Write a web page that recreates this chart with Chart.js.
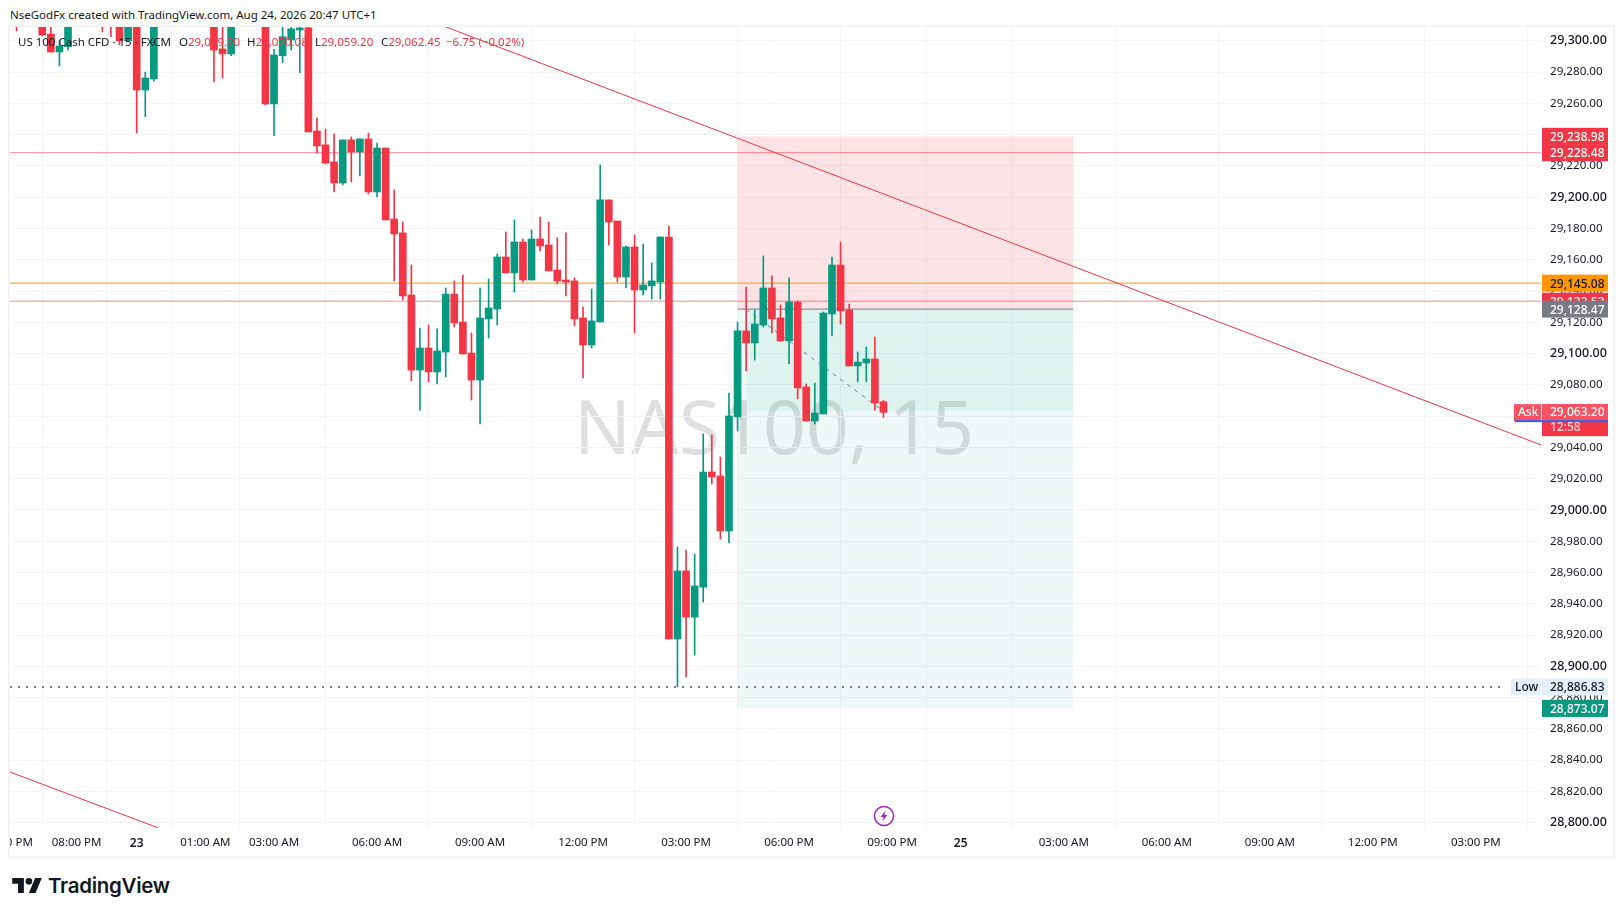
<!DOCTYPE html>
<html>
<head>
<meta charset="utf-8">
<title>NAS100, 15</title>
<script src="https://cdn.jsdelivr.net/npm/chart.js@4/dist/chart.umd.min.js"></script>
<style>
    html, body { margin: 0; padding: 0; background: #fff; }
    body { width: 1623px; height: 916px; position: relative; overflow: hidden; font-family: "Noto Sans", sans-serif; color: #131722; }
    #frame { position: absolute; left: 8px; top: 25px; width: 1603px; height: 829px; border: 2px solid #f2f3f4; }
    #watermark { position: absolute; left: 574px; top: 370px; font-size: 75px; line-height: 110px; color: #dfdfdf; white-space: nowrap; }
    #stockChart { position: absolute; left: 10px; top: 27px; }
    #credit { position: absolute; left: 10px; top: 5px; font-size: 11.5px; line-height: 20px; white-space: nowrap; }
    .legend { position: absolute; top: 33px; font-size: 11.5px; line-height: 18px; white-space: nowrap; }
    .red { color: #f23645; }
    #logoIcon { position: absolute; left: 12px; top: 878px; }
    #logoText { position: absolute; left: 48px; top: 871px; font-family: Inter, sans-serif; font-weight: 600; font-size: 20.5px; line-height: 30px; letter-spacing: -0.3px; }
    #bolt { position: absolute; left: 873px; top: 805px; }
</style>
</head>
<body>
<div id="frame"></div>
<div id="watermark">NAS100, 15</div>
<canvas id="stockChart" width="1603" height="829"></canvas>

<div id="credit">NseGodFx created with TradingView.com, Aug 24, 2026 20:47 UTC+1</div>
<div class="legend" style="left:18px">US 100 Cash CFD · 15 · FXCM</div>
<div class="legend" style="left:179px">O<span class="red">29,069.20</span></div>
<div class="legend" style="left:247px">H<span class="red">29,070.08</span></div>
<div class="legend" style="left:315px">L<span class="red">29,059.20</span></div>
<div class="legend" style="left:381px">C<span class="red">29,062.45</span></div>
<div class="legend red" style="left:446px">−6.75 (−0.02%)</div>

<svg id="bolt" width="22" height="22" viewBox="0 0 22 22">
    <circle cx="11" cy="11" r="9.6" fill="none" stroke="#9c27b0" stroke-width="1.5"/>
    <path d="M12.6 5.5 7.6 12h3l-1.2 4.6 5-6.5h-3z" fill="#9c27b0"/>
</svg>
<svg id="logoIcon" width="30" height="15" viewBox="0 4 35.5 18">
    <path d="M14 22H7V11H0V4h14v18zM28 22h-8l7.5-18h8L28 22z" fill="#131722"/>
    <circle cx="20" cy="8" r="4" fill="#131722"/>
</svg>
<div id="logoText">TradingView</div>

<script>
// Candles, one entry per 15 minute bar. null = bar sits above the visible range
const opens = [
    29322, null, null, 29318, 29304.4, 29292.9, 29296.3, null, null, null,
    29322, 29325, 29318, 29300, 29312, 29268.6, 29275.7, null, null, null,
    null, null, null, 29320, 29294.9, 29291.7, null, null, null, 29330,
    29259.7, 29290.6, 29300.6, 29307.0, 29308.3, 29242.4, 29233.5, 29222.6, 29209.1, 29236.7,
    29229.0, 29237.3, 29203.4, 29231.5, 29186.1, 29177.2, 29137.5, 29089.5, 29103.6, 29088.3,
    29101.0, 29138.1, 29120.2, 29100.4, 29083.1, 29122.2, 29128.5, 29161.8, 29151.6, 29171.4,
    29147.1, 29173.3, 29169.5, 29153.5, 29147.1, 29146.5, 29122.8, 29105.5, 29120.2, 29198.3,
    29184.8, 29149.0, 29168.2, 29140.7, 29143.3, 29145.8, 29174.6, 28917.5, 28961.0, 28931.5,
    28950.7, 29024.3, 29021.7, 28986.5, 29059.5, 29114.5, 29106.8, 29118.3, 29142.0, 29122.8,
    29108.1, 29133.0, 29078.7, 29056.9, 29061.4, 29125.4, 29156.7, 29127.9, 29092.1, 29094.0,
    29096.6, 29069.2
];
const highs = [
    29326, null, null, 29322, 29316, 29300, 29320, null, null, null,
    29328, 29330, 29322, 29330, 29318, 29280.1, 29326, null, null, null,
    null, null, null, 29325, 29315, 29330, null, null, null, 29335,
    29294.6, 29312, 29311, 29312, 29309, 29250.7, 29243.7, 29240.5, 29236.7, 29238.6,
    29237.3, 29241.1, 29234.7, 29231.5, 29204.7, 29184.2, 29156.7, 29116.4, 29118.3, 29115.8,
    29142.0, 29146.5, 29150.3, 29113.2, 29142.0, 29147.7, 29163.7, 29177.8, 29185.5, 29173.3,
    29179.1, 29187.4, 29184.2, 29174.0, 29177.2, 29148.4, 29129.8, 29141.3, 29220.7, 29198.3,
    29184.8, 29168.8, 29175.9, 29170.1, 29158.0, 29174.6, 29181.6, 28976.3, 28974.4, 28971.8,
    29048.6, 29048.0, 29033.9, 29074.8, 29120.2, 29142.6, 29127.9, 29162.5, 29149.7, 29131.1,
    29148.4, 29133.7, 29080.6, 29081.2, 29126.6, 29161.8, 29171.4, 29131.7, 29101.0, 29104.2,
    29110.6, 29070.08
];
const lows = [
    29306.4, null, null, 29303.2, 29292.9, 29284.0, 29294.2, null, null, null,
    29305.7, 29302.7, 29297.4, 29300, 29241.3, 29251.6, 29274.4, null, null, null,
    null, null, null, 29273.7, 29276.3, 29290.6, null, null, null, 29259.0,
    29239.4, 29286.1, 29294.2, 29279.7, 29241.8, 29228.3, 29221.3, 29203.4, 29207.9, 29209.8,
    29213.6, 29202.1, 29200.2, 29185.5, 29146.5, 29134.3, 29082.5, 29063.9, 29081.9, 29080.6,
    29085.1, 29117.0, 29099.8, 29070.3, 29055.0, 29110.0, 29118.3, 29151.6, 29139.4, 29145.8,
    29147.1, 29165.7, 29152.9, 29144.5, 29136.9, 29117.7, 29084.4, 29103.6, 29120.2, 29169.5,
    29145.8, 29142.0, 29113.2, 29137.5, 29134.9, 29134.9, 28917.5, 28886.83, 28893.2, 28907.2,
    28941.1, 29016.6, 28981.4, 28978.9, 29050.5, 29088.9, 29095.9, 29117.0, 29113.2, 29108.1,
    29093.4, 29071.0, 29056.9, 29055.0, 29061.4, 29111.3, 29119.0, 29092.1, 29081.9, 29081.9,
    29063.9, 29059.2
];
const closes = [
    29312, null, null, 29303.8, 29292.9, 29296.8, 29315, null, null, null,
    29313, 29312, 29300, 29322, 29268.6, 29276.3, 29322, null, null, null,
    null, null, null, 29294.2, 29291.7, 29325, null, null, null, 29259.7,
    29291.0, 29302.7, 29307.7, 29308.3, 29241.8, 29232.8, 29221.9, 29209.1, 29236.7, 29229.0,
    29237.3, 29203.4, 29231.5, 29185.5, 29176.5, 29136.9, 29089.5, 29103.6, 29088.3, 29101.7,
    29138.1, 29119.6, 29099.8, 29083.1, 29122.8, 29129.2, 29161.8, 29151.6, 29171.4, 29147.1,
    29173.3, 29168.8, 29152.9, 29146.5, 29145.8, 29122.2, 29105.5, 29120.9, 29198.3, 29184.2,
    29149.0, 29168.2, 29140.7, 29143.9, 29146.5, 29174.6, 28917.5, 28961.0, 28931.5, 28951.4,
    29024.3, 29021.1, 28986.5, 29060.1, 29114.5, 29106.8, 29119.0, 29142.0, 29122.2, 29108.1,
    29133.0, 29078.0, 29056.9, 29062.0, 29126.0, 29156.7, 29127.3, 29092.1, 29094.6, 29096.6,
    29068.4, 29062.45
];

// Time axis, positions are in bars
const timeBars = [-1, 7, 14, 22, 30, 42, 54, 66, 78, 90, 102, 110, 122, 134, 146, 158, 170];
const timeLabels = ['06:00 PM', '08:00 PM', '23', '01:00 AM', '03:00 AM', '06:00 AM', '09:00 AM', '12:00 PM',
    '03:00 PM', '06:00 PM', '09:00 PM', '25', '03:00 AM', '06:00 AM', '09:00 AM', '12:00 PM', '03:00 PM'];
const dayLabels = ['23', '25'];

// Drawings
const trendA = [[48, 29313.2], [177.6, 29041.6]];
const trendB = [[-0.76, 28832.4], [16.45, 28796.8]];
const projection = [[85, 29128.4], [100.8, 29064]];
const lineRed1 = 29228.48;
const lineRed2 = 29133.53;
const lineOrange = 29145.08;
const lowPrice = 28886.83;
const askPrice = 29063.2;

// Long position box
const stopPrice = 29238.98;
const entryPrice = 29128.47;
const targetPrice = 28873.07;
const boxBars = [84, 123.1];
const fillStartBar = 85;

// Price scale tags
const tagPrices = [stopPrice, lineRed1, lineOrange, lineRed2, entryPrice, targetPrice];
const tagColors = ['#f23645', '#f23645', '#ff9800', '#f23645', '#787b86', '#089981'];

const xMin = -0.76;
const xMax = 177.6;
const upColor = '#089981';
const downColor = '#f23645';

const priceText = v => v.toLocaleString('en-US', { minimumFractionDigits: 2, maximumFractionDigits: 2 });
const points = pairs => pairs.map(p => ({ x: p[0], y: p[1] }));
const hLine = (y, end) => points([[xMin, y], [end === undefined ? xMax : end, y]]);

const bars = opens.map((o, i) => i).filter(i => opens[i] !== null);
const barColors = bars.map(i => closes[i] >= opens[i] ? upColor : downColor);

function lineSet(data, color, dash, width) {
    return {
        type: 'line',
        data: data,
        borderColor: color,
        borderWidth: width || 1,
        borderDash: dash || [],
        pointRadius: 0,
        order: 3
    };
}

// Position box goes under the candles
const boxPlugin = {
    id: 'boxPlugin',
    beforeDatasetsDraw(chart) {
        const { ctx, scales: { x, y } } = chart;
        const left = x.getPixelForValue(boxBars[0]);
        const right = x.getPixelForValue(boxBars[1]);
        const inner = x.getPixelForValue(fillStartBar);
        const rect = (l, top, bottom, color) => {
            const y1 = y.getPixelForValue(top);
            ctx.fillStyle = color;
            ctx.fillRect(l, y1, right - l, y.getPixelForValue(bottom) - y1);
        };
        ctx.save();
        rect(left, stopPrice, entryPrice, 'rgba(242,54,69,0.14)');
        rect(left, entryPrice, targetPrice, 'rgba(8,153,129,0.07)');
        rect(inner, entryPrice, askPrice, 'rgba(8,153,129,0.07)');
        ctx.restore();
    }
};

// Coloured labels on the price scale
const tagPlugin = {
    id: 'tagPlugin',
    afterDraw(chart) {
        const { ctx, scales: { y } } = chart;
        const left = y.left + 1;
        const width = 66;
        const height = 17;
        const box = (x, py, w, h, color) => {
            ctx.fillStyle = color;
            ctx.fillRect(x, py, w, h);
        };
        const label = (text, x, py, color) => {
            ctx.fillStyle = color;
            ctx.fillText(text, x, py + 1);
        };
        ctx.save();
        ctx.font = '500 12px "Noto Sans"';
        ctx.textBaseline = 'middle';
        ctx.textAlign = 'left';

        tagPrices.forEach((price, i) => {
            const py = y.getPixelForValue(price);
            box(left, py - height / 2, width, height, tagColors[i]);
            label(priceText(price), left + 8, py, tagColors[i] === '#ff9800' ? '#131722' : '#fff');
        });

        // low marker
        const lowY = y.getPixelForValue(lowPrice);
        box(left - 31, lowY - height / 2, 30, height, '#e3effd');
        box(left, lowY - height / 2, width, height, '#e3effd');
        label('Low', left - 27, lowY, '#131722');
        label(priceText(lowPrice), left + 8, lowY, '#131722');

        // ask marker with the bar countdown under it
        const askY = y.getPixelForValue(askPrice);
        box(left, askY - 7, width, 32, '#f23645');
        box(left, askY - 7, width, 17, '#f7525f');
        box(left - 28, askY - 7, 27, 17, '#f7525f');
        box(left - 27, askY + 9, width + 27, 2, '#2962ff');
        label('Ask', left - 24, askY, '#fff');
        label(priceText(askPrice), left + 8, askY, '#fff');
        label('12:58', left + 8, askY + 15, '#ffd6da');
        ctx.restore();
    }
};

const ctx = document.getElementById('stockChart').getContext('2d');
new Chart(ctx, {
    type: 'bar',
    data: {
        datasets: [
            {
                label: 'Body',
                data: bars.map(i => ({ x: i, y: [opens[i], closes[i]] })),
                backgroundColor: barColors,
                barThickness: 7,
                grouped: false,
                order: 1
            },
            {
                label: 'Wick',
                data: bars.map(i => ({ x: i, y: [lows[i], highs[i]] })),
                backgroundColor: barColors,
                barThickness: 1,
                grouped: false,
                order: 2
            },
            lineSet(points(trendA), '#f23645'),
            lineSet(points(trendB), '#f23645'),
            lineSet(hLine(lineRed1), 'rgba(242,54,69,0.6)'),
            lineSet(hLine(lineRed2), 'rgba(242,54,69,0.6)'),
            lineSet(hLine(lineOrange), '#ff9800'),
            lineSet(hLine(lowPrice, 173.4), '#787b86', [2, 6], 2),
            lineSet(points(projection), '#787b86', [4, 5]),
            lineSet(points([[boxBars[0], entryPrice], [boxBars[1], entryPrice]]), '#787b86')
        ]
    },
    options: {
        responsive: false,
        animation: false,
        layout: { padding: 0 },
        plugins: {
            legend: { display: false },
            tooltip: { enabled: false }
        },
        scales: {
            x: {
                type: 'linear',
                offset: false,
                min: xMin,
                max: xMax,
                grid: { color: '#f3f4f6', drawTicks: false },
                border: { display: false },
                afterBuildTicks(scale) {
                    scale.ticks = timeBars.map(v => ({ value: v }));
                },
                afterFit(scale) {
                    scale.height = 28;
                    scale.paddingLeft = 0;
                    scale.paddingRight = 0;
                },
                ticks: {
                    autoSkip: false,
                    maxRotation: 0,
                    minRotation: 0,
                    padding: 8,
                    color: '#131722',
                    font: c => dayLabels.includes(c.tick && c.tick.label)
                        ? { family: '"Noto Sans"', size: 12, weight: '600' }
                        : { family: '"Noto Sans"', size: 11.5 },
                    callback: v => timeLabels[timeBars.indexOf(v)]
                }
            },
            y: {
                position: 'right',
                min: 28796.6,
                max: 29308.9,
                grid: { color: '#f3f4f6', drawTicks: false },
                border: { display: false },
                afterFit(scale) {
                    scale.width = 72;
                    scale.paddingTop = 0;
                    scale.paddingBottom = 0;
                },
                ticks: {
                    stepSize: 20,
                    includeBounds: false,
                    padding: 9,
                    color: '#131722',
                    font: c => c.tick && c.tick.value % 100 === 0
                        ? { family: '"Noto Sans"', size: 12.5, weight: '500' }
                        : { family: '"Noto Sans"', size: 11.6 },
                    callback: v => priceText(v)
                }
            }
        }
    },
    plugins: [boxPlugin, tagPlugin]
});
</script>
</body>
</html>
